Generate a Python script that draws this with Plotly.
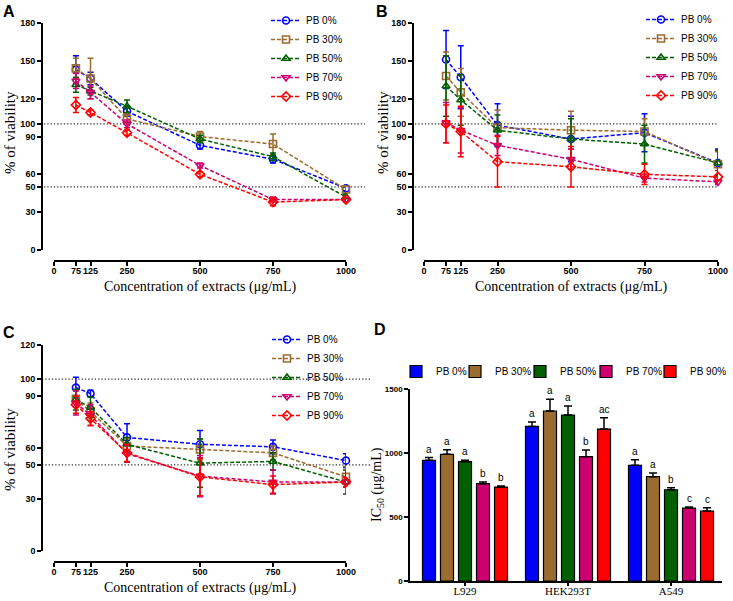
import plotly.graph_objects as go

W, H = 733, 601

# ---------------- data ----------------
conc = [75, 125, 250, 500, 750, 1000]
conc_ticks = [0, 75, 125, 250, 500, 750, 1000]
series_names = ['PB 0%', 'PB 30%', 'PB 50%', 'PB 70%', 'PB 90%']
ref_lines = [100, 50]

# Panel A
a_pb0 = [143, 136, 110, 83, 72, 49]
a_pb0_err = [11, 5, 4, 3, 3, 2]
a_pb30 = [144, 136, 104, 90, 84, 48]
a_pb30_err = [8, 16, 4, 4, 8, 3]
a_pb50 = [131, 126, 114, 88, 74, 42]
a_pb50_err = [6, 3, 5, 3, 3, 2]
a_pb70 = [134, 125, 100, 67, 40, 40]
a_pb70_err = [6, 5, 3, 2, 2, 2]
a_pb90 = [115, 109, 93, 60, 38, 40]
a_pb90_err = [6, 2, 2, 2, 3, 2]

# Panel B
b_pb0 = [151, 137, 99, 88, 93, 69]
b_pb0_err = [23, 25, 17, 18, 15, 11]
b_pb30 = [138, 125, 97, 95, 94, 68]
b_pb30_err = [19, 19, 14, 15, 10, 10]
b_pb50 = [130, 119, 95, 88, 84, 69]
b_pb50_err = [24, 20, 12, 16, 15, 10]
b_pb70 = [101, 95, 83, 72, 57, 54]
b_pb70_err = [16, 18, 8, 8, 3, 2]
b_pb90 = [100, 94, 70, 66, 60, 58]
b_pb90_err = [15, 20, 20, 16, 8, 5]

# Panel C
c_pb0 = [95, 91.5, 66, 62, 60.5, 52.5]
c_pb0_err = [6, 2, 8, 8, 4, 4]
c_pb30 = [88.5, 81, 61, 59, 57, 43]
c_pb30_err = [5, 5, 4, 6, 4, 6]
c_pb50 = [88, 83.5, 62, 51, 52, 40]
c_pb50_err = [6, 6, 4, 14, 5, 7]
c_pb70 = [86, 79, 56.5, 43.5, 40, 40]
c_pb70_err = [7, 6, 5, 12, 7, 3]
c_pb90 = [85, 77, 57, 43, 38.5, 40]
c_pb90_err = [5, 4, 5, 11, 5, 3]

# Panel D
cells = ['L929', 'HEK293T', 'A549']
ic50_pb0 = [943, 1208, 904]
ic50_pb0_err = [21, 34, 44]
ic50_pb30 = [990, 1328, 815]
ic50_pb30_err = [36, 91, 29]
ic50_pb50 = [932, 1297, 713]
ic50_pb50_err = [11, 70, 16]
ic50_pb70 = [760, 971, 570]
ic50_pb70_err = [13, 52, 8]
ic50_pb90 = [734, 1187, 547]
ic50_pb90_err = [8, 89, 26]
letters_pb0 = ['a', 'a', 'a']
letters_pb30 = ['a', 'a', 'a']
letters_pb50 = ['a', 'a', 'b']
letters_pb70 = ['b', 'b', 'c']
letters_pb90 = ['b', 'ac', 'c']

# ---------------- style ----------------
colors = ['#0000FF', '#9C6B2F', '#006000', '#CC0070', '#FF0000']
symbols = ['circle-open', 'square-open', 'triangle-up-open',
           'triangle-down-open', 'diamond-open']
SANS = 'Liberation Sans, Arial, sans-serif'
SERIF = 'Liberation Serif, Times New Roman, serif'


def px_x(p):
    return p / W


def px_y(p):
    return 1 - p / H


fig = go.Figure()

panels = [
    ([a_pb0, a_pb30, a_pb50, a_pb70, a_pb90],
     [a_pb0_err, a_pb30_err, a_pb50_err, a_pb70_err, a_pb90_err], 'x', 'y', 'legend'),
    ([b_pb0, b_pb30, b_pb50, b_pb70, b_pb90],
     [b_pb0_err, b_pb30_err, b_pb50_err, b_pb70_err, b_pb90_err], 'x2', 'y2', 'legend2'),
    ([c_pb0, c_pb30, c_pb50, c_pb70, c_pb90],
     [c_pb0_err, c_pb30_err, c_pb50_err, c_pb70_err, c_pb90_err], 'x3', 'y3', 'legend3'),
]

for vals, errs, xa, ya, lg in panels:
    for i in range(5):
        fig.add_trace(go.Scatter(
            x=conc, y=vals[i], name=series_names[i], mode='lines+markers',
            xaxis=xa, yaxis=ya, legend=lg, cliponaxis=False,
            line=dict(color=colors[i], width=1.5, dash='4px,2px'),
            marker=dict(symbol=symbols[i], size=7, color=colors[i],
                        line=dict(width=1.6, color=colors[i])),
            error_y=dict(type='data', array=errs[i], visible=True,
                         color=colors[i], thickness=1.5, width=3),
        ))

ic50 = [ic50_pb0, ic50_pb30, ic50_pb50, ic50_pb70, ic50_pb90]
ic50_err = [ic50_pb0_err, ic50_pb30_err, ic50_pb50_err, ic50_pb70_err, ic50_pb90_err]
letters = [letters_pb0, letters_pb30, letters_pb50, letters_pb70, letters_pb90]
bar_legends = ['legend4', 'legend5', 'legend6', 'legend7', 'legend8']
for i in range(5):
    fig.add_trace(go.Bar(
        x=cells, y=ic50[i], name=series_names[i], xaxis='x4', yaxis='y4',
        legend=bar_legends[i],
        marker=dict(color=colors[i], line=dict(color='black', width=1.2)),
        error_y=dict(type='data', array=ic50_err[i], arrayminus=[0] * 3,
                     symmetric=False, color='black', thickness=1.5, width=4),
    ))

annotations = []
for i in range(5):
    for j, c in enumerate(cells):
        annotations.append(dict(
            x=c, y=ic50[i][j] + ic50_err[i][j], xref='x4', yref='y4',
            text=letters[i][j], showarrow=False, xshift=(i - 2) * 18, yshift=1,
            yanchor='bottom', font=dict(family=SANS, size=10, color='black')))

# panel letters
for t, x, y in [('A', 9, 12), ('B', 382, 12), ('C', 9, 333), ('D', 380, 329)]:
    annotations.append(dict(x=px_x(x), y=px_y(y), xref='paper', yref='paper',
                            text=t, showarrow=False, xanchor='center', yanchor='middle',
                            font=dict(family=SANS, size=16, color='black', weight='bold')))

# axis titles
xt = 'Concentration of extracts (μg/mL)'
for x, y in [(200, 287), (571, 287), (200, 588)]:
    annotations.append(dict(x=px_x(x), y=px_y(y), xref='paper', yref='paper', text=xt,
                            showarrow=False, xanchor='center', yanchor='middle',
                            font=dict(family=SERIF, size=14, color='black')))
for x, y in [(10, 133), (383, 133), (10, 450)]:
    annotations.append(dict(x=px_x(x), y=px_y(y), xref='paper', yref='paper',
                            text='% of viability', textangle=-90, showarrow=False,
                            xanchor='center', yanchor='middle',
                            font=dict(family=SERIF, size=15, color='black')))
annotations.append(dict(x=px_x(378), y=px_y(485), xref='paper', yref='paper',
                        text='IC<sub>50</sub> (μg/mL)', textangle=-90, showarrow=False,
                        xanchor='center', yanchor='middle',
                        font=dict(family=SERIF, size=14, color='black')))

shapes = []
for (x0, x1, ya) in [(44, 365, 'y'), (415, 718, 'y2'), (42, 370, 'y3')]:
    for v in ref_lines:
        shapes.append(dict(type='line', xref='paper', yref=ya, x0=px_x(x0), x1=px_x(x1),
                           y0=v, y1=v, line=dict(color='#333333', width=1.3, dash='1.3px,2px'),
                           layer='below'))

axis_common = dict(showline=True, linecolor='black', linewidth=1.6, ticks='outside',
                   ticklen=4, tickwidth=1.5, tickcolor='black', showgrid=False,
                   zeroline=False, fixedrange=True)


def lin_x(l, r, pos):
    return dict(axis_common, domain=[px_x(l), px_x(r)], anchor='free', position=px_y(pos),
                range=[0, 1000], tickmode='array', tickvals=conc_ticks, tickangle=0,
                ticklabelstandoff=-3,
                tickfont=dict(family=SANS, size=9, color='black', weight='bold'))


def lin_y(pos, bot, top, rng, ticks):
    return dict(axis_common, domain=[px_y(bot), px_y(top)], anchor='free',
                position=px_x(pos), range=rng, tickmode='array', tickvals=ticks,
                tickfont=dict(family=SANS, size=9, color='black', weight='bold'))


ticks180 = [0, 30, 50, 60, 90, 100, 120, 150, 180]
ticks120 = [0, 30, 50, 60, 90, 100, 120]

legend_common = dict(font=dict(family=SANS, size=10, color='black'), bgcolor='rgba(0,0,0,0)',
                     itemwidth=30, xanchor='left', yanchor='top', tracegroupgap=0,
                     itemclick=False, itemdoubleclick=False)

bar_legend_x = [396, 455, 520, 586, 650]
bar_legend_layout = {name: dict(legend_common, x=px_x(bx), y=px_y(357))
                     for name, bx in zip(bar_legends, bar_legend_x)}

fig.update_layout(
    width=W, height=H, margin=dict(l=0, r=0, t=0, b=0, autoexpand=False),
    paper_bgcolor='white', plot_bgcolor='white',
    barmode='group', bargap=0.126, bargroupgap=0.278,
    xaxis=lin_x(54, 346, 261),
    yaxis=lin_y(42, 250, 23, [0, 180], ticks180),
    xaxis2=lin_x(424, 718, 261),
    yaxis2=lin_y(413, 250, 23, [0, 180], ticks180),
    xaxis3=lin_x(54, 346, 562),
    yaxis3=lin_y(42, 550.7, 344.7, [0, 120], ticks120),
    xaxis4=dict(axis_common, domain=[px_x(410), px_x(722)], anchor='y4', type='category',
                range=[-0.534, 2.495], tickangle=0, ticklen=3, ticklabelstandoff=-4,
                tickfont=dict(family=SERIF, size=11, color='black')),
    yaxis4=dict(axis_common, domain=[px_y(581), px_y(389)], anchor='x4', range=[0, 1500],
                tickvals=[0, 500, 1000, 1500],
                tickfont=dict(family=SANS, size=8, color='black', weight='bold')),
    legend=dict(legend_common, x=px_x(266), y=px_y(6)),
    legend2=dict(legend_common, x=px_x(641), y=px_y(5)),
    legend3=dict(legend_common, x=px_x(267), y=px_y(325)),
    annotations=annotations,
    shapes=shapes,
    showlegend=True,
)
fig.update_layout(**bar_legend_layout)

fig.write_html('out.html', post_script="document.body.style.margin='0px';",
               config={'displayModeBar': False})
